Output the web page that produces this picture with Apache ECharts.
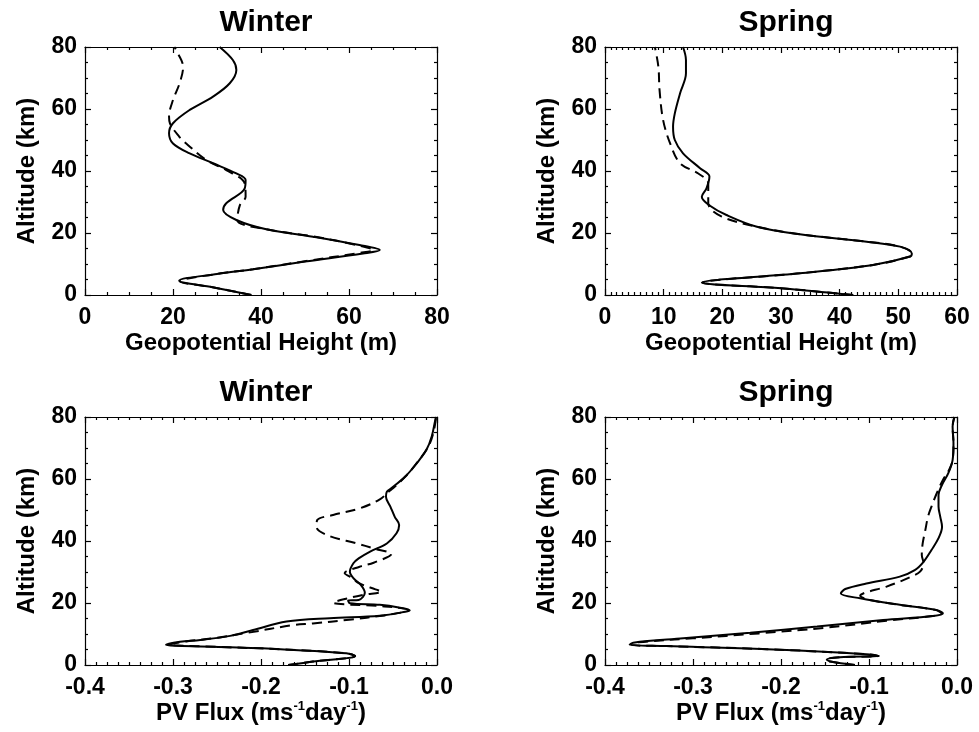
<!DOCTYPE html>
<html>
<head>
<meta charset="utf-8">
<script src="https://cdn.jsdelivr.net/npm/echarts@6/dist/echarts.min.js"></script>
<style>
html,body{margin:0;padding:0;background:#fff;}
#main{width:979px;height:732px;}
</style>
</head>
<body>
<div id="main"></div>
<script>
// ---- Data: [value, altitude km] ----
const winterGeoSolid = [[37.8,0],[29,2.5],[21.4,4.6],[30,6.8],[38.2,8.3],[50,10.8],[63.2,13.4],[67.0,14.5],[62.4,16.1],[51.8,18.8],[41.2,21.2],[34.4,24.2],[31.4,27.4],[32.1,29.6],[36.3,34.4],[36.5,37.1],[34.4,39.2],[29.1,42.5],[23.8,45.7],[20.0,48.9],[19.1,52.2],[20.0,55.4],[23.8,59.7],[29.1,64],[32.9,68.3],[34.4,72.6],[33.6,75.8],[30.6,80]];
const winterGeoDashed = [[37.8,0],[29,2.5],[21.6,4.4],[30,6.8],[38.2,8.3],[50,10.9],[62.5,13.6],[65.5,14.5],[61.5,16.2],[51.8,18.9],[41.2,21.2],[34.6,24.2],[35.2,29],[36.5,31.7],[36.3,36],[32.1,40.3],[27.6,43.5],[23.0,48.9],[21.4,51.1],[19.3,55.4],[19.1,57.6],[20.0,62.9],[21.5,68.3],[22.3,73.6],[21.1,78],[20.3,80]];
const springGeoSolid = [[42.3,0],[30,2.2],[16.5,4.0],[33.2,7],[45.7,9.7],[52.0,12.4],[52.3,13.4],[50.3,15.6],[44.6,17.2],[33.2,19.6],[25.9,22],[20.7,25.8],[17.9,28.8],[16.5,31.7],[17.3,34.4],[17.8,38.2],[16.2,40.9],[13.3,45.7],[11.9,50],[11.6,54.3],[11.9,58.6],[12.8,65.1],[13.8,71.5],[13.8,75.8],[13.3,80]];
const springGeoDashed = [[42.3,0],[30,2.2],[16.6,4.0],[33.2,7],[45.7,9.7],[52.0,12.4],[52.3,13.4],[50.3,15.6],[44.6,17.2],[33.2,19.6],[26.5,21.8],[19.9,25.3],[17.6,29.6],[17.6,36],[15.9,39.2],[12.8,42.5],[11.1,48.9],[9.9,56.5],[9.3,66.1],[9.1,73.6],[8.5,80]];
const winterPvSolid = [[-0.169,0],[-0.141,1.1],[-0.093,2.9],[-0.103,3.8],[-0.178,5.1],[-0.254,5.9],[-0.308,6.5],[-0.292,7.5],[-0.269,8.1],[-0.235,9.4],[-0.209,11.3],[-0.171,14.0],[-0.122,15.1],[-0.065,15.9],[-0.036,17.2],[-0.031,17.7],[-0.042,18.5],[-0.065,19.4],[-0.099,19.9],[-0.101,20.8],[-0.089,21.0],[-0.082,23.3],[-0.086,25.6],[-0.095,28.0],[-0.099,30.1],[-0.095,32.8],[-0.089,34.4],[-0.076,36.6],[-0.057,39.2],[-0.046,42.5],[-0.043,45.2],[-0.048,47.8],[-0.053,51.1],[-0.058,54.3],[-0.057,55.9],[-0.052,57],[-0.036,60.8],[-0.023,65.1],[-0.012,69.4],[-0.006,73.7],[-0.002,79],[-0.001,80]];
const winterPvDashed = [[-0.169,0],[-0.141,1.1],[-0.093,2.9],[-0.103,3.8],[-0.178,5.1],[-0.254,5.9],[-0.305,6.6],[-0.285,7.6],[-0.255,8.6],[-0.215,10.4],[-0.163,12.9],[-0.141,13.4],[-0.100,14.6],[-0.060,16.0],[-0.036,17.2],[-0.034,17.8],[-0.045,18.5],[-0.065,19.0],[-0.118,20.1],[-0.106,21.2],[-0.084,22.6],[-0.063,23.7],[-0.070,24.4],[-0.088,26.3],[-0.099,28.5],[-0.105,29.6],[-0.088,31.7],[-0.072,33.0],[-0.052,35.8],[-0.072,37.6],[-0.091,39.2],[-0.125,41.9],[-0.137,44.6],[-0.136,46.8],[-0.118,48.4],[-0.088,50.5],[-0.065,53.4],[-0.055,55.9],[-0.050,57],[-0.036,60.8],[-0.023,65.1],[-0.010,70.4],[-0.004,75],[-0.001,80]];
const springPvSolid = [[-0.116,0],[-0.144,1.1],[-0.148,1.8],[-0.133,2.5],[-0.089,2.9],[-0.103,3.5],[-0.216,5.1],[-0.330,6.1],[-0.372,6.5],[-0.368,7.2],[-0.311,8.6],[-0.235,10.4],[-0.159,12.4],[-0.084,14.5],[-0.027,15.8],[-0.016,16.7],[-0.023,17.7],[-0.065,19.4],[-0.110,21.5],[-0.132,23.1],[-0.127,24.5],[-0.103,26.3],[-0.065,28.5],[-0.048,30.6],[-0.038,33.3],[-0.029,37.1],[-0.021,40.9],[-0.017,44.6],[-0.019,47.8],[-0.021,51.1],[-0.021,54.8],[-0.017,58.1],[-0.010,61.8],[-0.005,66.1],[-0.004,71.5],[-0.005,76.9],[-0.003,80]];
const springPvDashed = [[-0.116,0],[-0.144,1.1],[-0.148,1.8],[-0.133,2.5],[-0.089,2.9],[-0.103,3.5],[-0.216,5.1],[-0.330,6.1],[-0.370,6.5],[-0.362,7.3],[-0.300,8.6],[-0.225,10.2],[-0.150,12.0],[-0.080,14.3],[-0.028,15.8],[-0.018,16.7],[-0.025,17.8],[-0.070,19.6],[-0.099,21.0],[-0.110,22.3],[-0.080,25.3],[-0.065,26.9],[-0.052,28.5],[-0.042,30.1],[-0.038,32.8],[-0.040,35.5],[-0.039,39.2],[-0.036,43.5],[-0.033,47.8],[-0.029,51.1],[-0.023,55.4],[-0.016,59.7],[-0.009,62.9],[-0.005,66.1],[-0.004,71.5],[-0.005,76.9],[-0.003,80]];

// ---- Text ----
const titles = ['Winter','Spring','Winter','Spring'];
const xNames = ['{b|Geopotential Height (m)}','{b|Geopotential Height (m)}','{b|PV Flux (ms}{s|-1}{b|day}{s|-1}{b|)}','{b|PV Flux (ms}{s|-1}{b|day}{s|-1}{b|)}'];
const yName = 'Altitude (km)';
const xRanges = [[0,80,20,4],[0,60,10,10],[-0.4,0,0.1,8],[-0.4,0,0.1,8]];
const altTicks = [0,80,20,4];

const FONT = 'Liberation Sans, Arial, Helvetica, sans-serif';
const grids = [
  {left:85, top:47, width:352, height:248},
  {left:605, top:47, width:352, height:248},
  {left:85, top:417, width:352, height:248},
  {left:605, top:417, width:352, height:248}
];
const xAxes = [], yAxes = [], series = [], titleOpts = [];
const lineStyleAxis = {color:'#000', width:1.2};
grids.forEach((g,i)=>{
  const r = xRanges[i];
  const isPv = i>=2;
  const fmt = isPv ? (v=>Number(v).toFixed(1)) : (v=>String(Math.round(v)));
  xAxes.push({type:'value', gridIndex:i, position:'bottom', min:r[0], max:r[1], interval:r[2],
    axisLine:{show:true, onZero:false, lineStyle:lineStyleAxis},
    axisTick:{show:true, inside:true, length:6, lineStyle:lineStyleAxis},
    minorTick:{show:true, splitNumber:r[3], length:3, lineStyle:lineStyleAxis},
    splitLine:{show:false},
    axisLabel:{color:'#000', fontSize:23, fontWeight:'bold', fontFamily:FONT, margin:11, formatter:fmt, showMinLabel:true, showMaxLabel:true},
    name:xNames[i], nameLocation:'middle', nameGap:35,
    nameTextStyle:{color:'#000', fontSize:24, fontWeight:'bold', fontFamily:FONT,
      rich:{
        b:{fontSize:24, fontWeight:'bold', fontFamily:FONT, color:'#000', lineHeight:26},
        s:{fontSize:13, fontWeight:'bold', fontFamily:FONT, color:'#000', verticalAlign:'top', lineHeight:26}
      }}
  });
  xAxes.push({type:'value', gridIndex:i, position:'top', min:r[0], max:r[1], interval:r[2],
    axisLine:{show:true, onZero:false, lineStyle:lineStyleAxis},
    axisTick:{show:true, inside:true, length:6, lineStyle:lineStyleAxis},
    minorTick:{show:true, splitNumber:r[3], length:3, lineStyle:lineStyleAxis},
    splitLine:{show:false}, axisLabel:{show:false}
  });
  yAxes.push({type:'value', gridIndex:i, position:'left', min:altTicks[0], max:altTicks[1], interval:altTicks[2],
    axisLine:{show:true, onZero:false, lineStyle:lineStyleAxis},
    axisTick:{show:true, inside:true, length:6, lineStyle:lineStyleAxis},
    minorTick:{show:true, splitNumber:altTicks[3], length:3, lineStyle:lineStyleAxis},
    splitLine:{show:false},
    axisLabel:{color:'#000', fontSize:23, fontWeight:'bold', fontFamily:FONT, margin:8},
    name:yName, nameLocation:'middle', nameGap:46, nameRotate:90,
    nameTextStyle:{color:'#000', fontSize:24, fontWeight:'bold', fontFamily:FONT}
  });
  yAxes.push({type:'value', gridIndex:i, position:'right', min:altTicks[0], max:altTicks[1], interval:altTicks[2],
    axisLine:{show:true, onZero:false, lineStyle:lineStyleAxis},
    axisTick:{show:true, inside:true, length:6, lineStyle:lineStyleAxis},
    minorTick:{show:true, splitNumber:altTicks[3], length:3, lineStyle:lineStyleAxis},
    splitLine:{show:false}, axisLabel:{show:false}
  });
  titleOpts.push({text:titles[i], left:g.left+g.width/2, top:g.top-44, textAlign:'center',
    textStyle:{color:'#000', fontSize:30, fontWeight:'bold', fontFamily:FONT}});
});
const sets = [[winterGeoSolid,winterGeoDashed],[springGeoSolid,springGeoDashed],[winterPvSolid,winterPvDashed],[springPvSolid,springPvDashed]];
sets.forEach((pair,i)=>{
  pair.forEach((d,k)=>{
    series.push({type:'line', xAxisIndex:i*2, yAxisIndex:i*2, data:d, showSymbol:false, symbol:'none',
      smooth:0.35, clip:true, silent:true, animation:false,
      lineStyle:{color:'#000', width:2, type: k===0 ? 'solid' : [10,6]}});
  });
});
const chart = echarts.init(document.getElementById('main'), null, {renderer:'canvas'});
chart.setOption({
  backgroundColor:'#fff', animation:false,
  title:titleOpts, grid:grids, xAxis:xAxes, yAxis:yAxes, series:series
});
</script>
</body>
</html>
